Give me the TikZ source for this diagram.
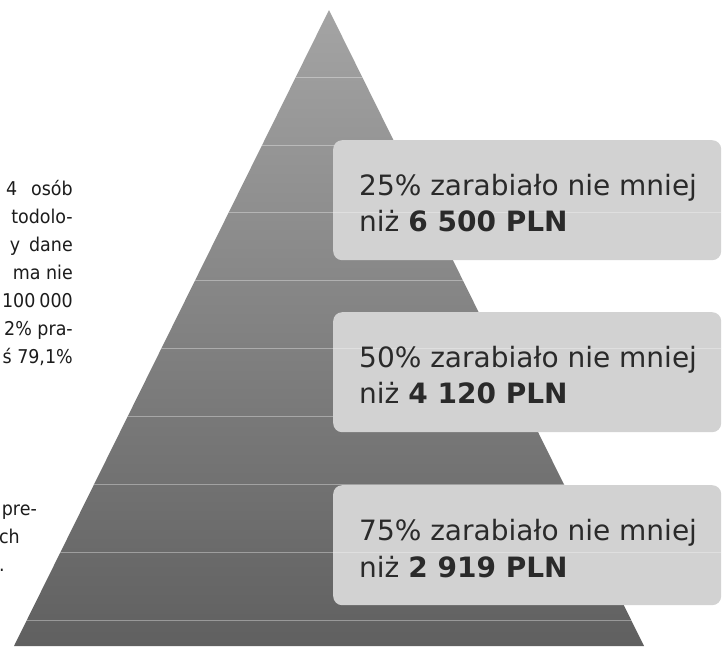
\documentclass[tikz,border=0pt]{standalone}
\usepackage{fontspec}
\setmainfont{DejaVu Sans}
\newfontfamily\leftfont[FakeStretch=0.92]{DejaVu Sans}
\definecolor{pyrtop}{HTML}{A4A4A4}
\definecolor{pyrbot}{HTML}{606060}
\definecolor{boxgray}{HTML}{D2D2D2}
\definecolor{boxtxt}{HTML}{2A2A2A}
\definecolor{lefttxt}{HTML}{1C1C1C}
\tikzset{
  sepline/.style={draw=white, draw opacity=0.35, line width=0.8pt},
  boxline/.style={draw=white, draw opacity=0.3, line width=0.8pt},
  pbox/.style={rounded corners=9pt, fill=boxgray, minimum width=388pt, minimum height=120pt, inner sep=0pt, anchor=north west},
  ptext/.style={text=boxtxt, font=\fontsize{28}{34}\selectfont, inner sep=0pt, anchor=base west},
  ltext/.style={text=lefttxt, font=\leftfont\fontsize{19}{28}\selectfont, inner sep=0pt, anchor=base east}
}
\begin{document}
\begin{tikzpicture}[x=1pt,y=-1pt]
\useasboundingbox (0,0) rectangle (723,646);
\fill[white] (0,0) rectangle (723,646);
\coordinate (apex) at (329,10);
\coordinate (bl) at (14,646);
\coordinate (br) at (644,646);
\begin{scope}
  \clip (apex) -- (br) -- (bl) -- cycle;
  \shade[top color=pyrtop, bottom color=pyrbot] (0,10) rectangle (723,646);
  \foreach \y in {77,145,212,280,348,416,484,552,620}
    \draw[sepline] (0,\y) -- (723,\y);
\end{scope}
% boxes
\node[pbox] (b1) at (333,140) {};
\node[pbox] (b2) at (333,312) {};
\node[pbox] (b3) at (333,485) {};
\draw[boxline] (b1.west |- 0,212) -- (b1.east |- 0,212);
\draw[boxline] (b2.west |- 0,348) -- (b2.east |- 0,348);
\draw[boxline] (b3.west |- 0,552) -- (b3.east |- 0,552);
% box texts
\node[ptext] (t1a) at (359,195) {25\% zarabiało nie mniej};
\node[ptext] (t1b) at (359,231) {niż \textbf{6 500 PLN}};
\node[ptext] (t2a) at (359,367) {50\% zarabiało nie mniej};
\node[ptext] (t2b) at (359,403) {niż \textbf{4 120 PLN}};
\node[ptext] (t3a) at (359,540) {75\% zarabiało nie mniej};
\node[ptext] (t3b) at (359,577) {niż \textbf{2 919 PLN}};
% left text fragments
\node[ltext] (l1) at (73,195) {4\hspace{14pt}osób};
\node[ltext] (l2) at (73,223) {todolo-};
\node[ltext] (l3) at (73,251) {y\hspace{9pt}dane};
\node[ltext] (l4) at (73,279) {ma nie};
\node[ltext] (l5) at (73,307) {100\hspace{4pt}000};
\node[ltext] (l6) at (73,335) {2\% pra-};
\node[ltext] (l7) at (73,363) {ś 79,1\%};
\node[ltext] (l8) at (37,515) {pre-};
\node[ltext] (l9) at (20,543) {ch};
\node[ltext] (l10) at (5,571) {.};
\end{tikzpicture}
\end{document}
